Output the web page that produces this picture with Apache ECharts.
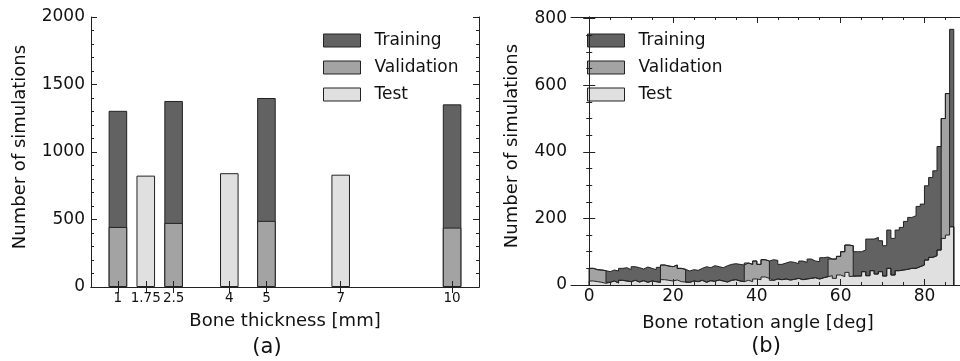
<!DOCTYPE html>
<html>
<head>
<meta charset="utf-8">
<title>Simulation datasets</title>
<script src="https://cdn.jsdelivr.net/npm/echarts@6.0.0/dist/echarts.min.js"></script>
<style>
    html, body { margin: 0; padding: 0; background: #fff; }
    #chart { width: 960px; height: 361px; }
</style>
</head>
<body>
<div id="chart"></div>
<script>
// (a) bone thickness
var thicknessTicks = [1, 1.75, 2.5, 4, 5, 7, 10];
var thicknessTrainVal = [1, 2.5, 5, 10];
var thicknessValidation = [445, 475, 490, 440];
var thicknessTraining = [860, 903, 910, 913];
var thicknessTest = [1.75, 4, 7];
var thicknessTestCounts = [825, 843, 832];

// (b) bone rotation angle, 1 deg bins starting at 0
var angleBinStart = 0;
var angleBinWidth = 1;
var angleTraining = [
    0, 0, 0, 0,
    32, 33, 36, 36, 40, 36, 41, 43, 35, 46, 38, 36, 45,
    0, 0, 0, 0, 0, 0,
    34, 34, 34, 36, 47, 39, 47, 40, 40, 49, 48, 48, 50, 50,
    0, 0, 0, 0, 0, 0,
    62, 56, 46, 48, 55, 51, 44, 56, 50, 58, 50, 52, 60, 59,
    0, 0, 0, 0, 0, 0,
    73, 73, 65, 110, 95, 110, 93, 91, 115, 110, 122, 128, 144, 153, 158, 181, 183, 223, 240, 255, 311,
    0, 0,
    593
];
var angleValidation = [
    38, 36, 37, 38,
    0, 0, 0, 0, 0, 0, 0, 0, 0, 0, 0, 0, 0,
    44, 43, 43, 45, 40, 38,
    0, 0, 0, 0, 0, 0, 0, 0, 0, 0, 0, 0, 0, 0,
    52, 52, 54, 46, 52, 52,
    0, 0, 0, 0, 0, 0, 0, 0, 0, 0, 0, 0, 0, 0,
    50, 58, 56, 75, 82, 92,
    0, 0, 0, 0, 0, 0, 0, 0, 0, 0, 0, 0, 0, 0, 0, 0, 0, 0, 0, 0, 0,
    360, 425,
    0
];
var angleTest = [
    12, 10, 8, 5, 8, 12, 6, 14, 12, 10,
    14, 9, 13, 8, 12, 10, 8, 16, 14, 12,
    15, 10, 9, 8, 12, 10, 14, 8, 13, 11,
    15, 12, 9, 14, 16, 12, 10, 14, 10, 18,
    16, 24, 20, 14, 18, 16, 18, 15, 17, 20,
    16, 18, 20, 22, 18, 22, 25, 28, 20, 30,
    25, 38, 26, 27, 27, 40, 28, 43, 33, 40,
    27, 50, 30, 43, 45, 47, 50, 50, 55, 60,
    75, 83, 88, 105, 140, 150, 175
];
var angleTicks = [0, 20, 40, 60, 80];
var angleMinorTicks = [5, 10, 15, 25, 30, 35, 45, 50, 55, 65, 70, 75, 85, 90];

var names = ['Training', 'Validation', 'Test'];
var colors = {Training: '#626262', Validation: '#a3a3a3', Test: '#e0e0e0'};
var edge = '#222';
var font = 'DejaVu Sans';
var textColor = '#111';

var gridA = {left: 91, top: 17, width: 388, height: 270};
var gridB = {left: 571, top: 17, width: 401, height: 268};
var xRangeA = [0.275, 10.725];
var xRangeB = [-4.35, 91.35];

var chart = echarts.init(document.getElementById('chart'), null, {renderer: 'canvas'});

function plain(v) { return String(v); }

function xAxis(grid, pos, range, ticks, len, label) {
    return {
        type: 'value', gridIndex: grid, position: pos, min: range[0], max: range[1], z: 5,
        axisLine: {show: true, lineStyle: {color: edge, width: 1}},
        axisTick: {show: true, inside: true, length: len, customValues: ticks, lineStyle: {color: edge}},
        axisLabel: label ? label : {show: false},
        splitLine: {show: false}
    };
}

function yAxis(grid, pos, max, interval, minorSplit, label) {
    return {
        type: 'value', gridIndex: grid, position: pos, min: 0, max: max, interval: interval, z: 5,
        axisLine: {show: true, lineStyle: {color: edge, width: 1}},
        axisTick: {show: true, inside: true, length: 6, lineStyle: {color: edge}},
        minorTick: {show: true, splitNumber: minorSplit, length: 3, lineStyle: {color: edge}},
        axisLabel: label ? label : {show: false},
        splitLine: {show: false},
        minorSplitLine: {show: false}
    };
}

// running sums so the layers sit on each other (drawn back to front)
function addUp(lists) {
    return lists[0].map(function (v, i) {
        var s = 0;
        lists.forEach(function (l) { s += l[i]; });
        return s;
    });
}

// step outline of a histogram, closed down to zero on both ends
function histPoints(counts) {
    var pts = [[angleBinStart, 0]];
    for (var i = 0; i < counts.length; i++) {
        pts.push([angleBinStart + i * angleBinWidth, counts[i]]);
    }
    var end = angleBinStart + counts.length * angleBinWidth;
    pts.push([end, counts[counts.length - 1]]);
    pts.push([end, 0]);
    return pts;
}

function pairs(xs, ys) {
    return xs.map(function (x, i) { return [x, ys[i]]; });
}

var legendData = names.map(function (n) {
    return {name: n, icon: 'rect', itemStyle: {color: colors[n], borderColor: edge, borderWidth: 1}};
});

function legend(left) {
    return {
        left: left, top: 32, orient: 'vertical', padding: 0,
        itemWidth: 37, itemHeight: 13, itemGap: 10, selectedMode: false,
        textStyle: {fontFamily: font, fontSize: 17, color: textColor, padding: [0, 0, 0, 9]},
        data: legendData
    };
}

var barWidth = 0.5 * gridA.width / (xRangeA[1] - xRangeA[0]);
function barSeries(n, xs, ys) {
    return {
        name: n, type: 'bar', xAxisIndex: 0, yAxisIndex: 0,
        barWidth: barWidth, barGap: '-100%',
        itemStyle: {color: colors[n], borderColor: edge, borderWidth: 1},
        emphasis: {disabled: true},
        data: pairs(xs, ys)
    };
}

function histSeries(n, counts) {
    return {
        name: n, type: 'line', xAxisIndex: 2, yAxisIndex: 2,
        step: 'end', symbol: 'none', showSymbol: false,
        lineStyle: {color: edge, width: 1},
        itemStyle: {color: colors[n]},
        areaStyle: {color: colors[n], opacity: 1, origin: 'start'},
        emphasis: {disabled: true},
        data: histPoints(counts)
    };
}

var option = {
    animation: false,
    backgroundColor: '#fff',
    textStyle: {fontFamily: font},
    grid: [
        {left: gridA.left, top: gridA.top, width: gridA.width, height: gridA.height, outerBoundsMode: 'none'},
        {left: gridB.left, top: gridB.top, width: gridB.width, height: gridB.height, outerBoundsMode: 'none'}
    ],
    legend: [legend(323), legend(587)],
    xAxis: [
        (function () {
            var a = xAxis(0, 'bottom', xRangeA, thicknessTicks, 6,
                {show: true, customValues: thicknessTicks, formatter: plain,
                 fontFamily: font, fontSize: 13.5, color: textColor, margin: 4});
            a.name = 'Bone thickness [mm]';
            a.nameLocation = 'middle';
            a.nameGap = 25;
            a.nameTextStyle = {fontFamily: font, fontSize: 18, color: textColor};
            return a;
        })(),
        xAxis(0, 'top', xRangeA, thicknessTicks, 6),
        (function () {
            var a = xAxis(1, 'bottom', xRangeB, angleTicks, 6,
                {show: true, customValues: angleTicks, formatter: plain,
                 fontFamily: font, fontSize: 17, color: textColor, margin: 3});
            a.name = 'Bone rotation angle [deg]';
            a.nameLocation = 'middle';
            a.nameGap = 29;
            a.nameTextStyle = {fontFamily: font, fontSize: 18, color: textColor, padding: [0, 27, 0, 0]};
            return a;
        })(),
        (function () { var a = xAxis(1, 'bottom', xRangeB, angleMinorTicks, 3); a.axisLine.show = false; return a; })(),
        xAxis(1, 'top', xRangeB, angleTicks, 6),
        (function () { var a = xAxis(1, 'top', xRangeB, angleMinorTicks, 3); a.axisLine.show = false; return a; })()
    ],
    yAxis: [
        (function () {
            var a = yAxis(0, 'left', 2000, 500, 5,
                {show: true, formatter: plain, fontFamily: font, fontSize: 17, color: textColor, margin: 6});
            a.name = 'Number of simulations';
            a.nameLocation = 'middle';
            a.nameGap = 62;
            a.nameTextStyle = {fontFamily: font, fontSize: 18, color: textColor, padding: [0, 0, 0, 10]};
            return a;
        })(),
        yAxis(0, 'right', 2000, 500, 5),
        (function () {
            var a = yAxis(1, 'left', 805, 200, 4,
                {show: true, formatter: plain, fontFamily: font, fontSize: 17, color: textColor, margin: 4});
            a.name = 'Number of simulations';
            a.nameLocation = 'middle';
            a.nameGap = 50;
            a.nameTextStyle = {fontFamily: font, fontSize: 18, color: textColor, padding: [0, 0, 0, 10]};
            return a;
        })(),
        yAxis(1, 'right', 805, 200, 4)
    ],
    series: [
        barSeries('Training', thicknessTrainVal, addUp([thicknessValidation, thicknessTraining])),
        barSeries('Validation', thicknessTrainVal, thicknessValidation),
        barSeries('Test', thicknessTest, thicknessTestCounts),
        histSeries('Training', addUp([angleTest, angleValidation, angleTraining])),
        histSeries('Validation', addUp([angleTest, angleValidation])),
        histSeries('Test', angleTest)
    ],
    graphic: [
        {type: 'text', x: 267, y: 348, style: {text: '(a)', fontFamily: font, fontSize: 21, fill: textColor,
            textAlign: 'center', textVerticalAlign: 'middle', align: 'center', verticalAlign: 'middle'}},
        {type: 'text', x: 766, y: 347, style: {text: '(b)', fontFamily: font, fontSize: 21, fill: textColor,
            textAlign: 'center', textVerticalAlign: 'middle', align: 'center', verticalAlign: 'middle'}}
    ]
};

chart.setOption(option);
</script>
</body>
</html>
